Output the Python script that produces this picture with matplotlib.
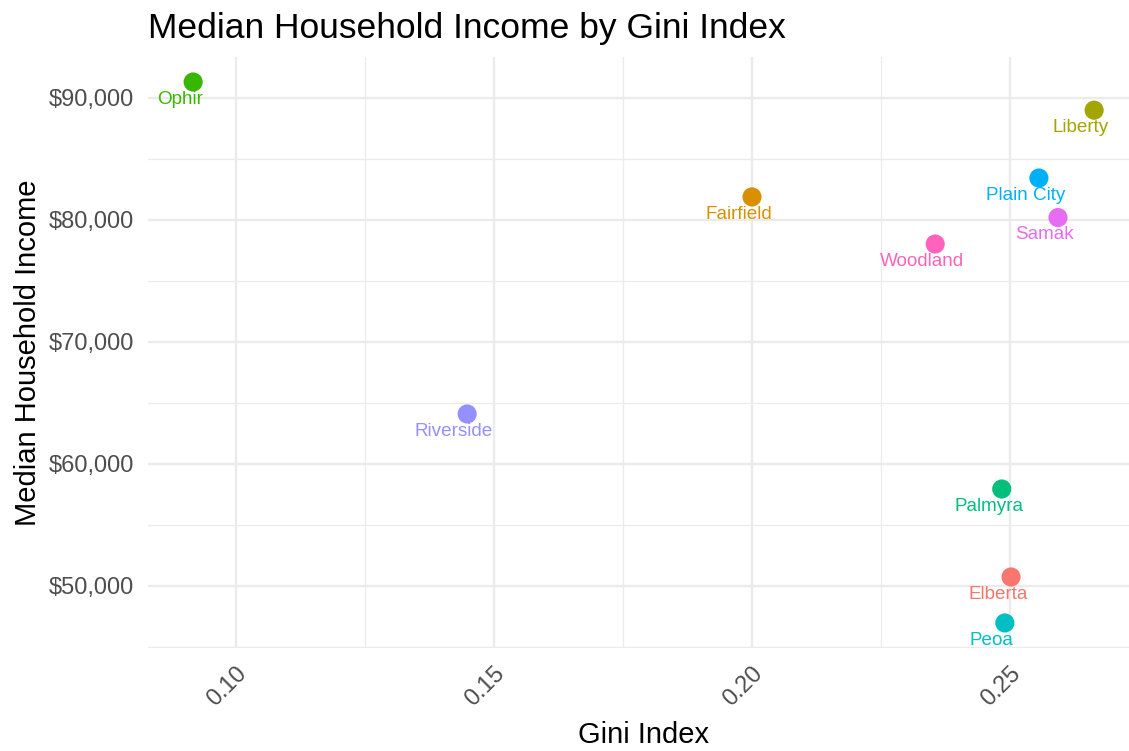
import matplotlib
matplotlib.use("Agg")
import matplotlib.pyplot as plt
from matplotlib.ticker import FixedLocator, MultipleLocator, FuncFormatter

plt.rcParams["font.family"] = ["Liberation Sans", "DejaVu Sans"]

# data
towns = ["Elberta", "Fairfield", "Liberty", "Ophir", "Palmyra",
         "Peoa", "Plain City", "Riverside", "Samak", "Woodland"]
gini = [0.2502, 0.2000, 0.2663, 0.0917, 0.2484,
        0.2490, 0.2556, 0.1448, 0.2593, 0.2355]
income = [50740, 81890, 89000, 91310, 57950,
          46970, 83440, 64100, 80200, 78030]
# ggplot default hue palette, towns in alphabetical order
colors = ["#F8766D", "#D89000", "#A3A500", "#39B600", "#00BF7D",
          "#00BFC4", "#00B0F6", "#9590FF", "#E76BF3", "#FF62BC"]

x_ticks = [0.10, 0.15, 0.20, 0.25]
y_ticks = [50000, 60000, 70000, 80000, 90000]

W, H = 1129, 751
fig = plt.figure(figsize=(W / 100, H / 100), dpi=100)
# panel in pixel terms: left 148, right 1129, top 57, bottom 647.6
ax = fig.add_axes([148 / W, (H - 647.6) / H, (1129 - 148) / W, (647.6 - 57) / H])

ax.set_xlim(0.08295, 0.27306)
ax.set_ylim(44950, 93360)

ax.xaxis.set_major_locator(FixedLocator(x_ticks))
ax.xaxis.set_minor_locator(MultipleLocator(0.025))
ax.yaxis.set_major_locator(FixedLocator(y_ticks))
ax.yaxis.set_minor_locator(MultipleLocator(5000))
ax.xaxis.set_major_formatter(FuncFormatter(lambda v, _: f"{v:.2f}"))
ax.yaxis.set_major_formatter(FuncFormatter(lambda v, _: f"${v:,.0f}"))

ax.grid(True, which="major", color="#EBEBEB", linewidth=1.7)
ax.grid(True, which="minor", color="#EBEBEB", linewidth=0.9)
ax.set_axisbelow(True)
for s in ax.spines.values():
    s.set_visible(False)

ax.tick_params(axis="both", which="both", length=0)
ax.tick_params(axis="y", labelsize=17, labelcolor="#4D4D4D", pad=10)
ax.tick_params(axis="x", labelsize=17, labelcolor="#4D4D4D", pad=11)
for lbl in ax.get_xticklabels():
    lbl.set_rotation(45)
    lbl.set_ha("right")
    lbl.set_va("top")
    lbl.set_rotation_mode("anchor")

ax.scatter(gini, income, s=190, c=colors, linewidths=0, zorder=3)
for t, x, y, c in zip(towns, gini, income, colors):
    ax.annotate(t, (x, y), xytext=(-9.5, -12.3), textcoords="offset points",
                ha="center", va="center", fontsize=13.6, color=c, zorder=4)

ax.set_title("Median Household Income by Gini Index", fontsize=25.5,
             loc="left", x=0.0, y=1.0, pad=14)
ax.set_xlabel("Gini Index", fontsize=21)
ax.set_ylabel("Median Household Income", fontsize=21)
ax.xaxis.set_label_coords(0.505, -0.125)
ax.yaxis.set_label_coords(-0.108, 0.5)

fig.savefig("out.png", dpi=100)
